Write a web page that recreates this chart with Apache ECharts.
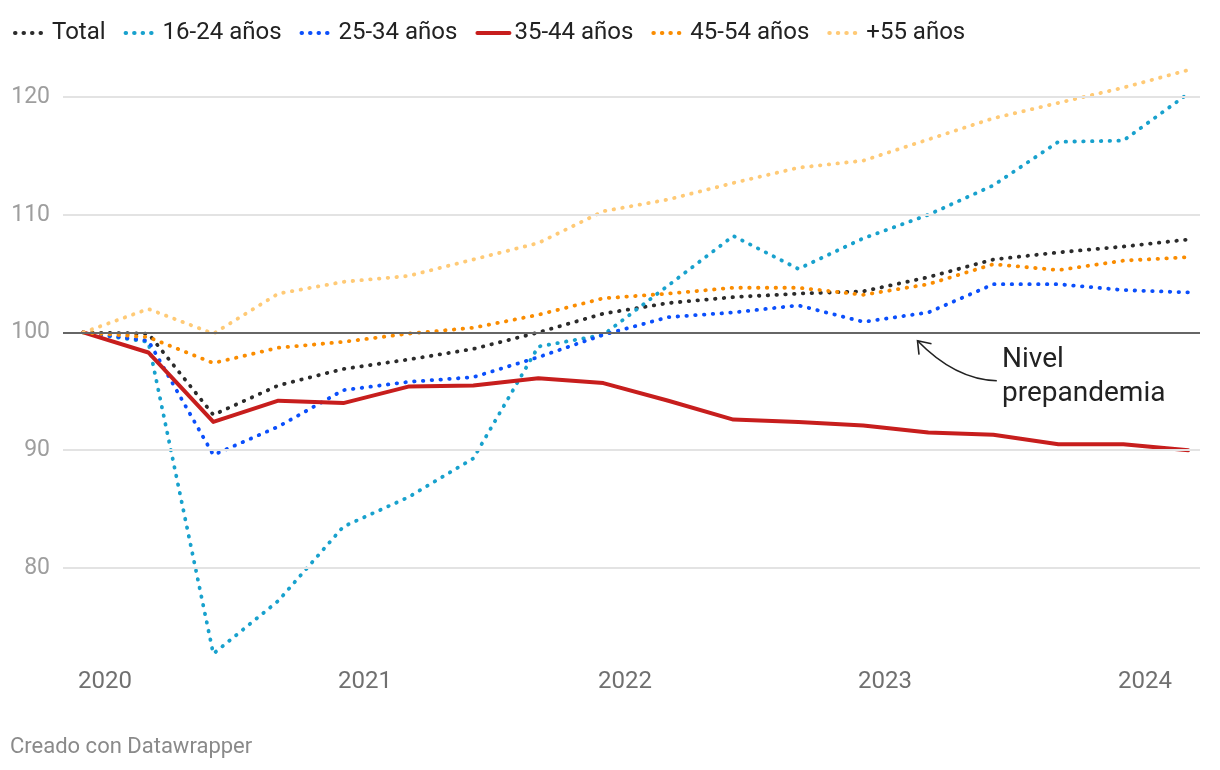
<!DOCTYPE html>
<html>
<head>
<meta charset="utf-8">
<style>
  html, body { margin: 0; padding: 0; background: #fff; }
  #chart { width: 1220px; height: 770px; }
</style>
<script src="https://cdn.jsdelivr.net/npm/echarts@6/dist/echarts.min.js"></script>
</head>
<body>
<div id="chart"></div>
<script>
// Periods (year-month of each observation)
const periods = ['2019-12','2020-03','2020-06','2020-09','2020-12','2021-03','2021-06','2021-09','2021-12',
                 '2022-03','2022-06','2022-09','2022-12','2023-03','2023-06','2023-09','2023-12','2024-03'];
const yearTicks = [2020, 2021, 2022, 2023, 2024];
const valueTicks = [80, 90, 100, 110, 120];

const total   = [100, 99.9, 93.0, 95.5, 96.9, 97.7, 98.6, 100.0, 101.6, 102.5, 103.0, 103.3, 103.5, 104.7, 106.2, 106.8, 107.3, 107.9];
const s16_24  = [100, 99.2, 72.7, 77.2, 83.5, 86.0, 89.3, 98.8, 99.8, 104.0, 108.2, 105.4, 108.0, 110.0, 112.5, 116.2, 116.3, 120.3];
const s25_34  = [100, 99.3, 89.6, 92.0, 95.1, 95.8, 96.2, 97.9, 99.8, 101.3, 101.7, 102.3, 100.9, 101.7, 104.1, 104.1, 103.6, 103.4];
const s35_44  = [100, 98.3, 92.4, 94.2, 94.0, 95.4, 95.5, 96.1, 95.7, 94.2, 92.6, 92.4, 92.1, 91.5, 91.3, 90.5, 90.5, 90.0];
const s45_54  = [100, 99.6, 97.4, 98.7, 99.2, 99.9, 100.4, 101.5, 102.9, 103.3, 103.8, 103.8, 103.2, 104.1, 105.8, 105.3, 106.1, 106.4];
const s55     = [100, 102.0, 99.9, 103.3, 104.3, 104.8, 106.2, 107.6, 110.3, 111.3, 112.7, 114.0, 114.6, 116.4, 118.2, 119.5, 120.8, 122.3];

const seriesNames = ['Total', '16-24 años', '25-34 años', '35-44 años', '45-54 años', '+55 años'];
const seriesData = [total, s16_24, s25_34, s35_44, s45_54, s55];
const colors = ['#2b2b2b', '#18a1cd', '#0b4ffb', '#c71e1d', '#fa8c00', '#ffca76'];
const dotted = [true, true, true, false, true, true];

function toYear(p) {
  const [y, m] = p.split('-').map(Number);
  return y + (m - 1) / 12;
}
const xs = periods.map(toYear);

const FONT = 'Roboto, "Noto Sans", sans-serif';

const series = seriesNames.map((name, i) => ({
  name: name,
  type: 'line',
  data: xs.map((x, j) => [x, seriesData[i][j]]),
  symbol: 'none',
  smooth: false,
  z: 3,
  lineStyle: dotted[i]
    ? { color: colors[i], width: 3.8, type: [0.5, 8.3], cap: 'round' }
    : { color: colors[i], width: 4, type: 'solid', cap: 'round', join: 'round' },
  itemStyle: { color: colors[i] },
  emphasis: { disabled: true }
}));

// reference / grid lines
series.unshift({
  name: '_grid',
  type: 'line',
  data: [],
  z: 1,
  silent: true,
  markLine: {
    silent: true,
    symbol: 'none',
    label: { show: false },
    animation: false,
    data: [80, 90, 110, 120].map(v => ({ yAxis: v, lineStyle: { color: '#e3e3e3', width: 2, type: 'solid' } }))
      .concat([{ yAxis: 100, lineStyle: { color: '#666666', width: 2, type: 'solid' } }])
  }
});

const legendData = seriesNames.map((n, i) => ({
  name: n,
  itemStyle: { opacity: 0 },
  lineStyle: dotted[i]
    ? { color: colors[i], width: 4, type: [0.5, 8], cap: 'round', opacity: 1 }
    : { color: colors[i], width: 4, type: 'solid', opacity: 1 }
}));

const chart = echarts.init(document.getElementById('chart'), null, { renderer: 'canvas' });
chart.setOption({
  animation: false,
  backgroundColor: '#ffffff',
  textStyle: { fontFamily: FONT },
  legend: {
    data: legendData,
    left: 8,
    top: 16,
    itemWidth: 32,
    itemHeight: 14,
    itemGap: 18,
    textStyle: { fontFamily: FONT, fontSize: 24, color: '#222222' },
    selectedMode: false
  },
  grid: { left: 63, right: 20, top: 50, bottom: 108, containLabel: false },
  xAxis: {
    type: 'value',
    min: 2019.8385,
    max: 2024.2115,
    axisLine: { show: false },
    axisTick: { show: false },
    splitLine: { show: false },
    axisLabel: {
      customValues: yearTicks,
      formatter: v => String(Math.round(v)),
      color: '#707070',
      fontSize: 24,
      fontFamily: FONT,
      margin: 8
    }
  },
  yAxis: {
    type: 'value',
    min: 72,
    max: 124,
    axisLine: { show: false },
    axisTick: { show: false },
    splitLine: { show: false },
    axisLabel: {
      customValues: valueTicks,
      formatter: v => String(Math.round(v)),
      color: '#9e9e9e',
      fontSize: 23,
      fontFamily: FONT,
      margin: 13
    }
  },
  series: series
});

// Annotation placed relative to data coordinates
function px(x, y) { return chart.convertToPixel({ xAxisIndex: 0, yAxisIndex: 0 }, [x, y]); }
const tip = px(2023.125, 99.3);
const start = px(2023.43, 95.9);
const ctrl = px(2023.27, 96.0);
const txt = px(2023.45, 97.65);
const ax = tip[0], ay = tip[1];
chart.setOption({
  graphic: [
    {
      type: 'bezierCurve',
      shape: { x1: start[0], y1: start[1], cpx1: ctrl[0], cpy1: ctrl[1], x2: ax, y2: ay },
      style: { stroke: '#222', lineWidth: 1.6, fill: null },
      silent: true
    },
    {
      type: 'polyline',
      shape: { points: [[ax + 1.5, ay + 14], [ax, ay], [ax + 14, ay + 3]] },
      style: { stroke: '#222', lineWidth: 1.6, fill: null },
      silent: true
    },
    {
      type: 'text',
      left: txt[0],
      top: txt[1] - 17,
      style: { text: 'Nivel\nprepandemia', fill: '#222', font: '28px ' + FONT, lineHeight: 34 },
      silent: true
    },
    {
      type: 'text',
      left: 10,
      top: 736,
      style: { text: 'Creado con Datawrapper', fill: '#8a8a8a', font: '22px ' + FONT },
      silent: true
    }
  ]
});
</script>
</body>
</html>
